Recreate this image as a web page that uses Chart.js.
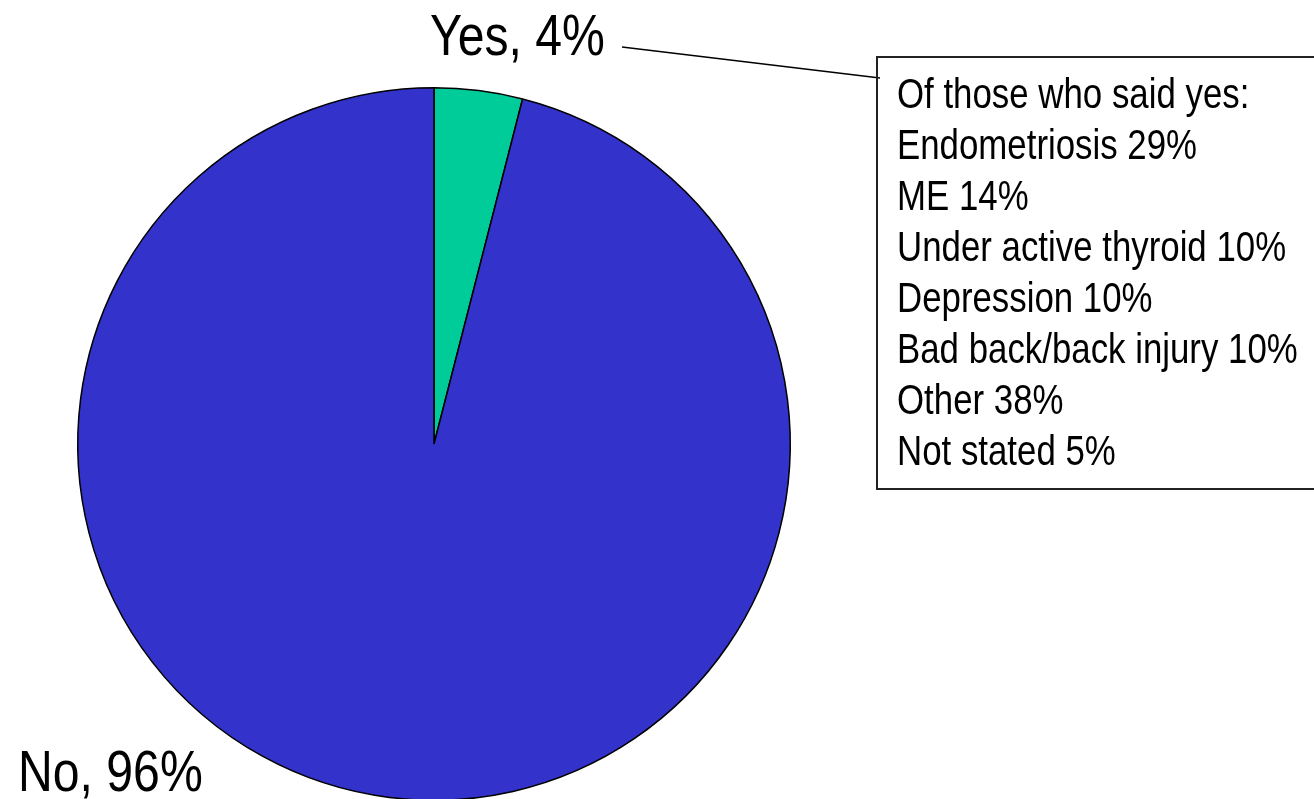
<!DOCTYPE html>
<html>
<head>
<meta charset="utf-8">
<script src="https://cdn.jsdelivr.net/npm/chart.js@4.4.1/dist/chart.umd.min.js"></script>
<style>
  html, body { margin: 0; padding: 0; background: #fff; overflow: hidden; }
  #wrap { width: 1314px; height: 820px; position: relative; }
</style>
</head>
<body>
<div id="wrap"><canvas id="chartPie"></canvas></div>
<script>
// answers to the main question
var categories = ['Yes', 'No'];
var shares = [4, 96];
var sliceColors = ['#00CC99', '#3333CC'];

// breakdown of the "yes" answers, shown in the box
var yesReasons = ['Endometriosis', 'ME', 'Under active thyroid', 'Depression', 'Bad back/back injury', 'Other', 'Not stated'];
var yesShares = [29, 14, 10, 10, 10, 38, 5];

var fontFamily = '"Liberation Sans", Arial, sans-serif';

// narrow-looking text: squeeze a regular face horizontally
function narrowText(ctx, text, x, y, squeeze) {
  ctx.save();
  ctx.translate(x, y);
  ctx.scale(squeeze, 1);
  ctx.fillText(text, 0, 0);
  ctx.restore();
}

// slice labels, leader line and the breakdown box
var annotations = {
  id: 'annotations',
  afterDraw: function (chart) {
    var ctx = chart.ctx;
    ctx.save();
    ctx.fillStyle = '#000';
    ctx.textBaseline = 'alphabetic';
    ctx.textAlign = 'left';

    ctx.font = '57px ' + fontFamily;
    narrowText(ctx, categories[0] + ', ' + shares[0] + '%', 430, 55, 0.845);
    narrowText(ctx, categories[1] + ', ' + shares[1] + '%', 18, 791, 0.845);

    // leader from the yes label to the box
    ctx.strokeStyle = '#000';
    ctx.lineWidth = 1.5;
    ctx.beginPath();
    ctx.moveTo(622, 47);
    ctx.lineTo(880, 78);
    ctx.stroke();

    // box
    ctx.lineWidth = 2;
    ctx.strokeStyle = '#222';
    ctx.strokeRect(877, 57, 460, 432);

    ctx.font = '43px ' + fontFamily;
    var lines = ['Of those who said yes:'];
    for (var i = 0; i < yesReasons.length; i++) {
      lines.push(yesReasons[i] + ' ' + yesShares[i] + '%');
    }
    for (var j = 0; j < lines.length; j++) {
      narrowText(ctx, lines[j], 897, 108 + j * 51, 0.81);
    }
    ctx.restore();
  }
};

const chartPie = document.getElementById('chartPie');

new Chart(chartPie, {
  type: 'pie',
  data: {
    labels: categories,
    datasets: [{
      data: shares,
      backgroundColor: sliceColors,
      borderColor: '#000',
      borderWidth: 1.5
    }]
  },
  options: {
    responsive: true,
    maintainAspectRatio: false,
    animation: false,
    layout: { padding: { left: 77, right: 523, top: 87, bottom: 19 } },
    plugins: {
      legend: { display: false },
      tooltip: { enabled: false }
    }
  },
  plugins: [annotations]
});
</script>
</body>
</html>
